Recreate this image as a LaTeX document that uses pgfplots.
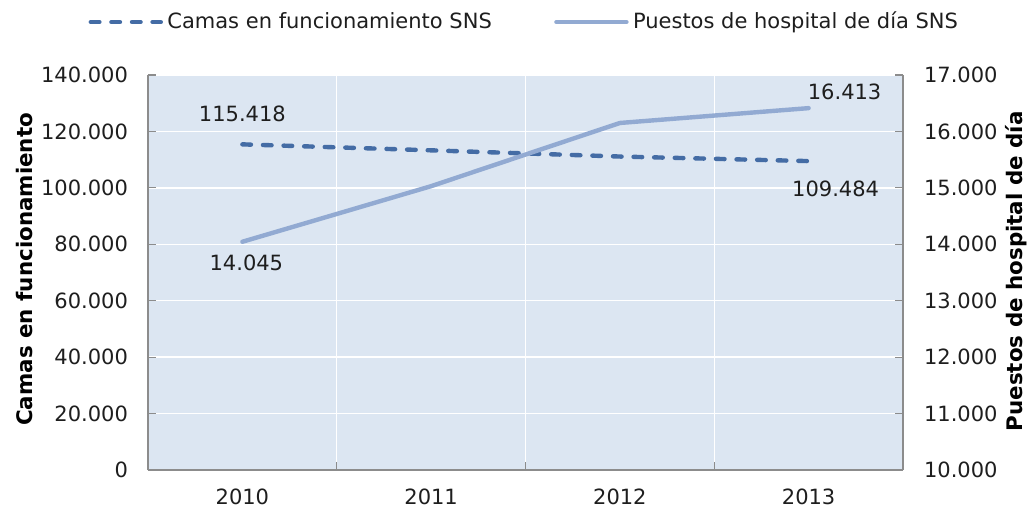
\documentclass[border=0pt]{standalone}
\usepackage{pgfplots}
\pgfplotsset{compat=1.18}
\usepackage{fontspec}
\setmainfont{DejaVu Sans}
\definecolor{bgblue}{RGB}{220,230,242}
\definecolor{camas}{RGB}{68,108,165}
\definecolor{puestos}{RGB}{146,170,210}
\definecolor{axgray}{RGB}{140,140,140}
\definecolor{txt}{RGB}{30,30,30}
\newcommand{\tf}{\fontsize{10.5}{12}\selectfont}
\newcommand{\lf}{\fontsize{10.7}{12}\selectfont\bfseries}
\begin{document}
\begin{tikzpicture}
\path[use as bounding box] (-74pt,-19.5pt) rectangle (440pt,235pt);
\begin{axis}[
  scale only axis, width=377.5pt, height=197.5pt,
  xmin=-0.5, xmax=3.5, ymin=0, ymax=140000,
  axis background/.style={fill=bgblue},
  axis x line*=bottom, axis y line*=left,
  axis line style={axgray, line width=0.8pt},
  tick align=inside,
  xtick={0,1,2,3}, xticklabels={2010,2011,2012,2013},
  minor xtick={0.5,1.5,2.5},
  major x tick style={draw=none},
  minor x tick style={axgray, line width=0.6pt},
  minor tick length=4pt,
  xminorgrids=true, xmajorgrids=false, ymajorgrids=true,
  grid style={white, line width=0.7pt},
  minor grid style={white, line width=0.7pt},
  ytick={0,20000,40000,60000,80000,100000,120000,140000},
  yticklabels={0,20.000,40.000,60.000,80.000,100.000,120.000,140.000},
  ytick pos=left,
  major y tick style={axgray, line width=0.6pt},
  major tick length=4pt,
  scaled y ticks=false,
  tick label style={font=\tf, text=txt},
  yticklabel style={xshift=-6.5pt},
  xticklabel style={yshift=-6pt},
  every axis y label/.style={at={(axis description cs:-0.1642,0.508)}, rotate=90, anchor=center, font=\lf, text=black},
  ylabel={Camas en funcionamiento},
  legend style={draw=none, fill=none, at={(axis description cs:0.5,1.134)}, anchor=center, font=\tf, text=txt,
    legend columns=2, /tikz/every even column/.append style={column sep=29pt},
    nodes={inner sep=2.2pt}},
  legend cell align=left,
  legend image code/.code={\draw[#1] (0pt,0pt) -- (35pt,0pt);},
]
\addplot[camas, line width=2.2pt, line cap=round, dash pattern=on 4.3pt off 6pt]
  coordinates {(0,115418) (1,113300) (2,111100) (3,109484)};
\addlegendentry{Camas en funcionamiento SNS}
\addlegendimage{puestos, line width=2.2pt, line cap=round}
\addlegendentry{Puestos de hospital de día SNS}
\addplot[draw=none, forget plot, nodes near coords={115.418},
  every node near coord/.append style={anchor=center, yshift=15pt, font=\tf, text=txt}]
  coordinates {(0,115418)};
\addplot[draw=none, forget plot, nodes near coords={109.484},
  every node near coord/.append style={anchor=center, xshift=13.5pt, yshift=-14pt, font=\tf, text=txt}]
  coordinates {(3,109484)};
\end{axis}
\begin{axis}[
  scale only axis, width=377.5pt, height=197.5pt,
  xmin=-0.5, xmax=3.5, ymin=10000, ymax=17000,
  axis x line=none, axis y line*=right,
  axis line style={axgray, line width=0.8pt},
  tick align=inside,
  ytick={10000,11000,12000,13000,14000,15000,16000,17000},
  yticklabels={10.000,11.000,12.000,13.000,14.000,15.000,16.000,17.000},
  major y tick style={axgray, line width=0.6pt},
  major tick length=4pt,
  scaled y ticks=false,
  tick label style={font=\tf, text=txt},
  yticklabel style={xshift=7pt},
  every axis y label/.style={at={(axis description cs:1.1497,0.503)}, rotate=90, anchor=center, font=\lf, text=black},
  ylabel={Puestos de hospital de día},
]
\addplot[puestos, line width=2.2pt, line cap=round, line join=round]
  coordinates {(0,14045) (1,15030) (2,16150) (3,16413)};
\addplot[draw=none, forget plot, nodes near coords={14.045},
  every node near coord/.append style={anchor=center, xshift=2pt, yshift=-10.5pt, font=\tf, text=txt}]
  coordinates {(0,14045)};
\addplot[draw=none, forget plot, nodes near coords={16.413},
  every node near coord/.append style={anchor=center, xshift=18pt, yshift=8pt, font=\tf, text=txt}]
  coordinates {(3,16413)};
\end{axis}
\end{tikzpicture}
\end{document}
